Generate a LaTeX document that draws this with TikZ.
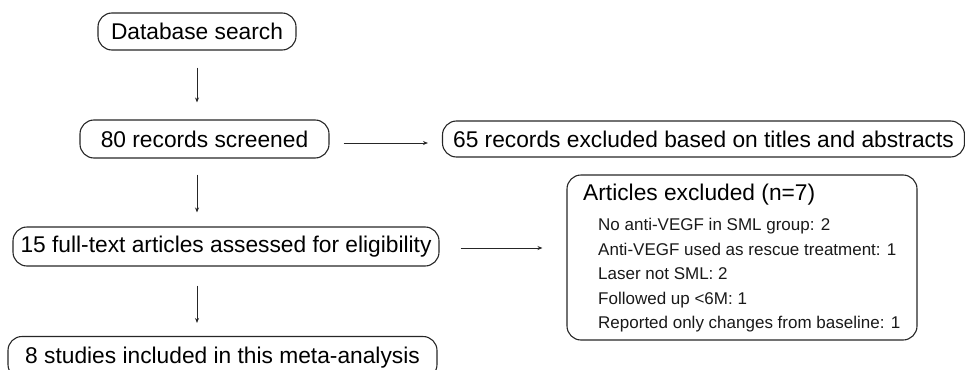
\documentclass[tikz,border=0pt]{standalone}
\usepackage{fontspec}
\setmainfont{Liberation Sans}
\usetikzlibrary{arrows.meta}

\tikzset{
  pill/.style={draw=black!85, line width=1.1pt, rounded corners=14pt,
    inner sep=0pt, font=\fontsize{22.75}{27}\selectfont},
  flow/.style={draw=black!85, line width=0.9pt,
    -{Stealth[length=5pt,width=4pt]}},
  heading/.style={anchor=base west, inner sep=0pt,
    font=\fontsize{22.75}{27}\selectfont},
  reason/.style={anchor=base west, inner sep=0pt,
    font=\fontsize{17}{20}\selectfont, text=black!90}
}

\begin{document}
\begin{tikzpicture}[x=1pt, y=-1pt]
  \useasboundingbox (0,0) rectangle (965,369);
  \clip (0,0) rectangle (965,369);

  % main column of stages
  \node[pill, minimum width=198pt, minimum height=37pt] (db) at (197,31.5) {Database search};
  \node[pill, minimum width=249pt, minimum height=38pt] (rs) at (204.5,139) {80 records screened\hspace{7pt}};
  \node[pill, minimum width=426pt, minimum height=39pt] (ft) at (226,246.5) {15 full-text articles assessed for eligibility\hspace{2pt}};
  \node[pill, minimum width=429pt, minimum height=42pt] (inc) at (222.5,357.5) {8 studies included in this meta-analysis};

  % exclusion boxes
  \node[pill, minimum width=522pt, minimum height=36pt] (ex1) at (703.5,139) {65 records excluded based on titles and abstracts\hspace{2pt}};
  \node[pill, minimum width=350pt, minimum height=165pt] (ex2) at (742,257.5) {};

  % contents of the second exclusion box
  \node[heading] (ttl) at (583,200) {Articles excluded (n=7)};
  \node[reason] (r1) at (598,230) {No anti-VEGF in SML group: 2};
  \node[reason] (r2) at (598,255) {Anti-VEGF used as rescue treatment: 1};
  \node[reason] (r3) at (598,279.5) {Laser not SML: 2};
  \node[reason] (r4) at (598,304) {Followed up <6M: 1};
  \node[reason] (r5) at (598,328.5) {Reported only changes from baseline: 1};

  % vertical flow along x = 197
  \draw[flow, shorten <=17pt, shorten >=17pt] (db.south) -- (db.south |- rs.north);
  \draw[flow, shorten <=16pt, shorten >=14pt] (rs.south -| db.south) -- (ft.north -| db.south);
  \draw[flow, shorten <=19pt, shorten >=13pt] (ft.south -| db.south) -- (inc.north -| db.south);

  % horizontal flow to the exclusion boxes
  \draw[flow, shorten <=14pt, shorten >=14pt] ([yshift=-4pt]rs.east) -- ([yshift=-4pt]ex1.west);
  \draw[flow, shorten <=21pt, shorten >=24pt] ([yshift=-1.5pt]ft.east) -- ([yshift=-1.5pt]ft.east -| ex2.west);
\end{tikzpicture}
\end{document}
